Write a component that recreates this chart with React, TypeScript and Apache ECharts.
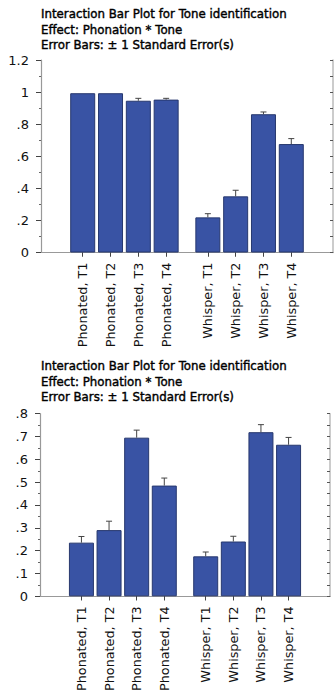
import React, { useEffect, useRef } from "react";
import * as echarts from "echarts";

const categories = [
  "Phonated, T1", "Phonated, T2", "Phonated, T3", "Phonated, T4",
  "Whisper, T1", "Whisper, T2", "Whisper, T3", "Whisper, T4",
];
const meansTop = [0.993, 0.993, 0.946, 0.953, 0.219, 0.35, 0.862, 0.676];
const seTop = [0, 0, 0.015, 0.008, 0.023, 0.038, 0.014, 0.034];
const meansBottom = [0.235, 0.29, 0.695, 0.485, 0.175, 0.24, 0.719, 0.664];
const seBottom = [0.027, 0.039, 0.033, 0.033, 0.019, 0.023, 0.033, 0.032];
const titleLines = [
  "Interaction Bar Plot for Tone identification",
  "Effect: Phonation * Tone",
  "Error Bars: \u00b1 1 Standard Error(s)",
];
const yTop = { max: 1.2, step: 0.2 };
const yBottom = { max: 0.8, step: 0.1 };

const N_SLOTS = 22;
const slotOf = (i: number) => 3 + 2 * i + (i >= 4 ? 1 : 0);
const axisCats: string[] = Array.from({ length: N_SLOTS }, () => "");
categories.forEach((c, i) => (axisCats[slotOf(i)] = c));

const BAR = "#3953a4";
const FONT = "DejaVu Sans";

function fmt(v: number) {
  const s = String(+v.toFixed(2));
  return s.replace(/^0\./, ".");
}

export default function App() {
  const ref = useRef<HTMLDivElement>(null);
  useEffect(() => {
    document.body.style.margin = "0";
    const chart = echarts.init(ref.current!, undefined, { renderer: "svg" });
    const showIdx = (_i: number, v: string) => v !== "";

    const grids = [
      { left: 41, top: 60, width: 292, height: 192.5 },
      { left: 40, top: 413.7, width: 290, height: 193.6 },
    ];
    const ycfg = [yTop, yBottom];
    const means = [meansTop, meansBottom];
    const ses = [seTop, seBottom];

    const xAxis: any[] = [];
    const yAxis: any[] = [];
    const series: any[] = [];
    grids.forEach((_g, gi) => {
      xAxis.push({
        type: "category", gridIndex: gi, data: axisCats, boundaryGap: false,
        axisLine: { lineStyle: { color: "#999", width: 1.2 } },
        axisTick: { interval: showIdx, length: 4, lineStyle: { color: "#444" } },
        axisLabel: {
          interval: showIdx, rotate: 90, margin: 10, fontFamily: FONT, fontSize: 12.8, color: "#111",
        },
        splitLine: { show: false },
      });
      xAxis.push({
        type: "category", gridIndex: gi, data: axisCats, boundaryGap: false, position: "top",
        axisLine: { lineStyle: { color: "#999", width: 1.2 } },
        axisTick: { interval: showIdx, inside: true, length: 4, lineStyle: { color: "#444" } },
        axisLabel: { show: false },
        splitLine: { show: false },
      });
      const c = ycfg[gi];
      yAxis.push({
        type: "value", gridIndex: gi, min: 0, max: c.max, interval: c.step,
        axisLine: { show: true, lineStyle: { color: "#999", width: 1.2 } },
        axisTick: { show: true, length: 5, lineStyle: { color: "#444" } },
        minorTick: { show: true, splitNumber: 2, length: 2, lineStyle: { color: "#666" } },
        axisLabel: { formatter: (v: number) => fmt(v), margin: 12, fontFamily: FONT, fontSize: 13, color: "#111" },
        splitLine: { show: false },
      });
      yAxis.push({
        type: "value", gridIndex: gi, min: 0, max: c.max, interval: c.step / 2, position: "right",
        axisLine: { show: true, lineStyle: { color: "#bbb", width: 1.5 } },
        axisTick: { show: true, inside: true, length: 3, lineStyle: { color: "#555" } },
        axisLabel: { show: false },
        splitLine: { show: false },
      });
      const barData: (number | null)[] = Array.from({ length: N_SLOTS }, () => null);
      means[gi].forEach((m, i) => (barData[slotOf(i)] = m));
      series.push({
        type: "bar", xAxisIndex: gi * 2, yAxisIndex: gi * 2, data: barData, barWidth: 25,
        itemStyle: { color: BAR, borderColor: "#27386e", borderWidth: 1 },
      });
      series.push({
        type: "custom", xAxisIndex: gi * 2, yAxisIndex: gi * 2, z: 5,
        data: means[gi].map((m, i) => [slotOf(i), m, m + ses[gi][i]]),
        renderItem: (_p: any, api: any) => {
          const x = api.value(0);
          const p0 = api.coord([x, api.value(1)]);
          const p1 = api.coord([x, api.value(2)]);
          if (Math.abs(p0[1] - p1[1]) < 0.5) return { type: "group", children: [] };
          const st = { stroke: "#444", lineWidth: 1 };
          return {
            type: "group",
            children: [
              { type: "line", shape: { x1: p0[0], y1: p0[1], x2: p1[0], y2: p1[1] }, style: st },
              { type: "line", shape: { x1: p1[0] - 3, y1: p1[1], x2: p1[0] + 3, y2: p1[1] }, style: st },
            ],
          };
        },
      });
    });

    chart.setOption({
      animation: false,
      title: [
        { text: titleLines.join("\n"), left: 41, top: 6 },
        { text: titleLines.join("\n"), left: 41, top: 358 },
      ].map((t) => ({
        ...t,
        padding: 0,
        textStyle: {
          fontFamily: FONT, fontSize: 11.8, fontWeight: "normal", color: "#000", lineHeight: 15.7,
          textBorderColor: "#000", textBorderWidth: 0.4,
        },
      })),
      grid: grids,
      xAxis,
      yAxis,
      series,
    });
    return () => chart.dispose();
  }, []);
  return <div ref={ref} style={{ width: 334, height: 694 }} />;
}
